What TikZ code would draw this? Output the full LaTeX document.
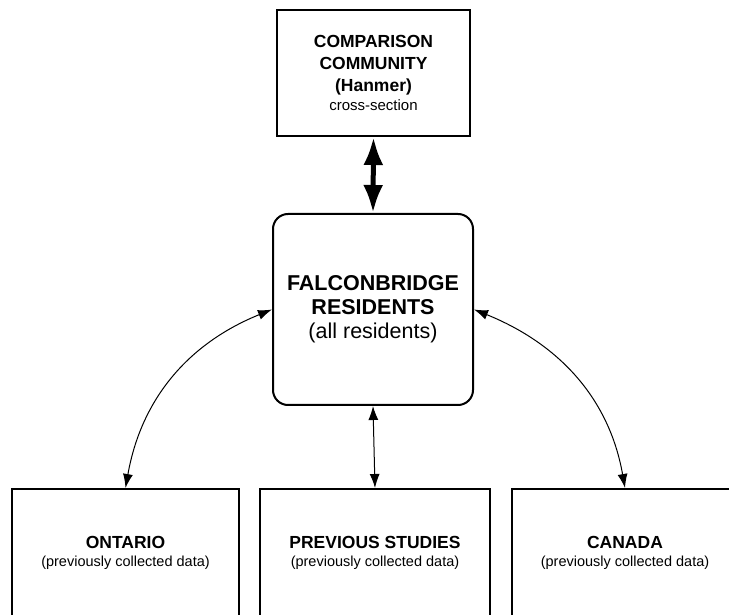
\documentclass[tikz,border=0pt]{standalone}
\usepackage{fontspec}
\setsansfont{Liberation Sans}
\usetikzlibrary{arrows.meta,positioning}

\begin{document}
\begin{tikzpicture}[
  x=1pt, y=1pt,
  font=\sffamily,
  box/.style={draw, line width=2pt, align=center, inner sep=0pt},
  compbox/.style={box, minimum width=193pt, minimum height=126pt,
    font=\sffamily\fontsize{17.5}{22}\selectfont},
  resbox/.style={box, rounded corners=15pt, minimum width=200pt,
    minimum height=191pt, font=\sffamily\fontsize{21.5}{24}\selectfont},
  srcbox/.style={box, minimum width=227pt, minimum height=128pt,
    font=\sffamily\fontsize{17.5}{18.5}\selectfont},
  arr/.style={{Latex[length=14pt,width=10pt]}-{Latex[length=14pt,width=10pt]},
    line width=1pt},
  bigarr/.style={{Latex[length=28pt,width=20pt]}-{Latex[length=28pt,width=20pt]},
    line width=5pt}
]
  \useasboundingbox (0,0) rectangle (729,614);
  \clip (0,0) rectangle (729,614);

  \node[compbox] (comp) at (373.5,541)
    {\textbf{COMPARISON}\\\textbf{COMMUNITY}\\\textbf{(Hanmer)}\\[-3pt]{\fontsize{15}{17}\selectfont cross-section}};
  \node[resbox] (fal) at (373,304.5)
    {\textbf{FALCONBRIDGE}\\\textbf{RESIDENTS}\\(all residents)};

  % data sources, cut off at the lower edge
  \node[srcbox] (ont) at (125.5,61)
    {\textbf{ONTARIO}\\{\fontsize{14.5}{17}\selectfont (previously collected data)}};
  \node[srcbox, minimum width=230pt] (prev) at (375,61)
    {\textbf{PREVIOUS STUDIES}\\{\fontsize{14.5}{17}\selectfont (previously collected data)}};
  \node[srcbox] (can) at (625,61)
    {\textbf{CANADA}\\{\fontsize{14.5}{17}\selectfont (previously collected data)}};

  \draw[bigarr] (comp.south) -- (fal.north);
  \draw[arr] (fal.west) to[out=202, in=80] (ont.north);
  \draw[arr] (fal.south) -- (prev.north);
  \draw[arr] (fal.east) to[out=-22, in=100] (can.north);
\end{tikzpicture}
\end{document}
